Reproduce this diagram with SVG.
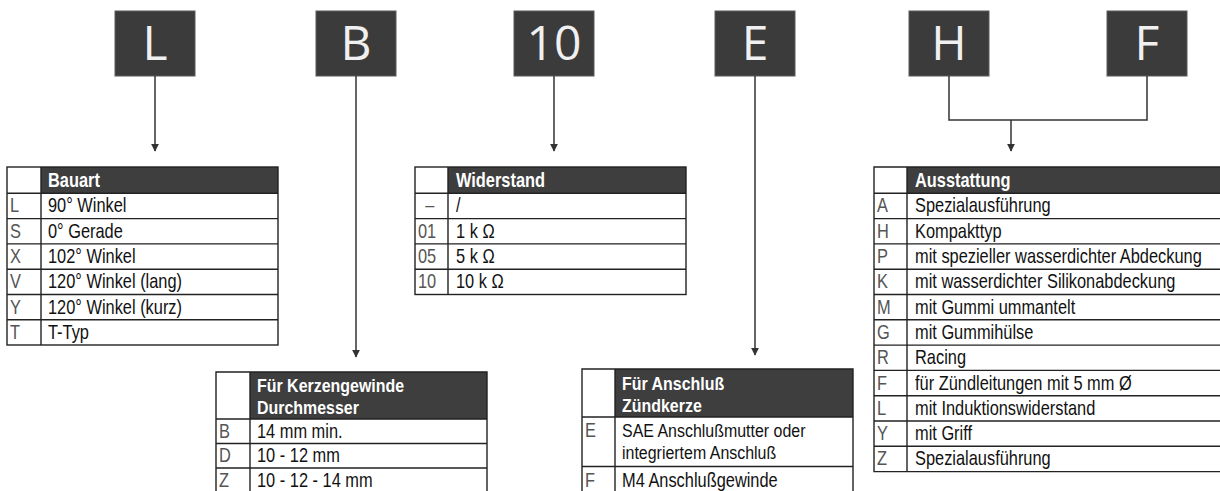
<svg xmlns="http://www.w3.org/2000/svg" width="1220" height="491" viewBox="0 0 1220 491">
<style>
.box{fill:#3b3b3b;stroke:#5a5a5a;stroke-width:1}
.bl{font-family:"Open Sans","DejaVu Sans",sans-serif;font-size:48px;fill:#f0f0f0;text-anchor:middle}
.hd{fill:#3e3e3e}
.ln{stroke:#222;stroke-width:1.4;fill:none}
.t text{font-family:"Liberation Sans",Arial,sans-serif;font-size:20px}
.ht text{font-weight:bold;fill:#fff}
.cd text{fill:#555}
.tx text{fill:#111}
.sm text{font-size:19px}
.con{stroke:#333;stroke-width:1.5;fill:none}
</style>
<defs>
<marker id="ah" viewBox="0 0 10 10" refX="9" refY="5" markerWidth="8" markerHeight="8" markerUnits="userSpaceOnUse" orient="auto">
<path d="M0,0 L10,5 L0,10 Z" fill="#333"/>
</marker>
</defs>
<rect width="1220" height="491" fill="#fff"/>

<g id="code-L"><rect class="box" x="115" y="11" width="80" height="65"/><text class="bl" x="155" y="60">L</text></g>
<g id="code-B"><rect class="box" x="316" y="11" width="80" height="65"/><text class="bl" x="356" y="60">B</text></g>
<g id="code-10"><rect class="box" x="514" y="11" width="80" height="65"/><text class="bl" x="554" y="60">10</text></g>
<g id="code-E"><rect class="box" x="715" y="11" width="80" height="65"/><text class="bl" x="755" y="60">E</text></g>
<g id="code-H"><rect class="box" x="909" y="11" width="80" height="65"/><text class="bl" x="949" y="60">H</text></g>
<g id="code-F"><rect class="box" x="1107" y="11" width="80" height="65"/><text class="bl" x="1147" y="60">F</text></g>

<g id="connectors">
<line class="con" x1="155" y1="76" x2="155" y2="151" marker-end="url(#ah)"/>
<line class="con" x1="356" y1="76" x2="356" y2="357" marker-end="url(#ah)"/>
<line class="con" x1="554" y1="76" x2="554" y2="151" marker-end="url(#ah)"/>
<line class="con" x1="755" y1="76" x2="755" y2="355" marker-end="url(#ah)"/>
<polyline class="con" points="949,76 949,120 1147,120 1147,76"/>
<line class="con" x1="1011" y1="120" x2="1011" y2="151" marker-end="url(#ah)"/>
</g>

<g id="table-bauart">
<rect class="hd" x="41" y="167" width="237" height="26.3"/>
<rect class="ln" x="7" y="167" width="271" height="178"/>
<line class="ln" x1="41" y1="167" x2="41" y2="345"/>
<path class="ln" d="M7,193.3H278M7,218.6H278M7,243.9H278M7,269.2H278M7,294.5H278M7,319.8H278"/>
<g class="t ht" transform="translate(48,0) scale(0.82,1)"><text x="0" y="187">Bauart</text></g>
<g class="t cd" transform="translate(10,0) scale(0.82,1)">
<text x="0" y="212.5">L</text><text x="0" y="237.8">S</text><text x="0" y="263.1">X</text><text x="0" y="288.4">V</text><text x="0" y="313.7">Y</text><text x="0" y="339">T</text>
</g>
<g class="t tx" transform="translate(48,0) scale(0.82,1)">
<text x="0" y="212.5">90° Winkel</text>
<text x="0" y="237.8">0° Gerade</text>
<text x="0" y="263.1">102° Winkel</text>
<text x="0" y="288.4">120° Winkel (lang)</text>
<text x="0" y="313.7">120° Winkel (kurz)</text>
<text x="0" y="339">T-Typ</text>
</g>
</g>

<g id="table-widerstand">
<rect class="hd" x="448" y="167" width="238" height="26.3"/>
<rect class="ln" x="415" y="167" width="271" height="127.5"/>
<line class="ln" x1="448" y1="167" x2="448" y2="294.5"/>
<path class="ln" d="M415,193.3H686M415,218.6H686M415,243.9H686M415,269.2H686"/>
<g class="t ht" transform="translate(456,0) scale(0.82,1)"><text x="0" y="187">Widerstand</text></g>
<g class="t cd" transform="translate(418,0) scale(0.82,1)">
<text x="9" y="212.5">–</text><text x="0" y="237.8">01</text><text x="0" y="263.1">05</text><text x="0" y="288.4">10</text>
</g>
<g class="t tx" transform="translate(456,0) scale(0.82,1)">
<text x="0" y="212.5">/</text>
<text x="0" y="237.8">1 k Ω</text>
<text x="0" y="263.1">5 k Ω</text>
<text x="0" y="288.4">10 k Ω</text>
</g>
</g>

<g id="table-ausstattung">
<rect class="hd" x="907" y="167" width="315" height="26.3"/>
<path class="ln" d="M1222,167H874V471.6H1222"/>
<line class="ln" x1="907" y1="167" x2="907" y2="471.6"/>
<path class="ln" d="M874,193.3H1222M874,218.6H1222M874,243.9H1222M874,269.2H1222M874,294.5H1222M874,319.8H1222M874,345.1H1222M874,370.4H1222M874,395.7H1222M874,421H1222M874,446.3H1222"/>
<g class="t ht" transform="translate(915,0) scale(0.82,1)"><text x="0" y="187">Ausstattung</text></g>
<g class="t cd" transform="translate(877,0) scale(0.82,1)">
<text x="0" y="212.5">A</text><text x="0" y="237.8">H</text><text x="0" y="263.1">P</text><text x="0" y="288.4">K</text><text x="0" y="313.7">M</text><text x="0" y="339">G</text><text x="0" y="364.3">R</text><text x="0" y="389.6">F</text><text x="0" y="414.9">L</text><text x="0" y="440.2">Y</text><text x="0" y="465.5">Z</text>
</g>
<g class="t tx" transform="translate(915,0) scale(0.82,1)">
<text x="0" y="212.5">Spezialausführung</text>
<text x="0" y="237.8">Kompakttyp</text>
<text x="0" y="263.1">mit spezieller wasserdichter Abdeckung</text>
<text x="0" y="288.4">mit wasserdichter Silikonabdeckung</text>
<text x="0" y="313.7">mit Gummi ummantelt</text>
<text x="0" y="339">mit Gummihülse</text>
<text x="0" y="364.3">Racing</text>
<text x="0" y="389.6">für Zündleitungen mit 5 mm Ø</text>
<text x="0" y="414.9">mit Induktionswiderstand</text>
<text x="0" y="440.2">mit Griff</text>
<text x="0" y="465.5">Spezialausführung</text>
</g>
</g>

<g id="table-gewinde">
<rect class="hd" x="250" y="372" width="237" height="47"/>
<path class="ln" d="M216,495V372H487V495"/>
<line class="ln" x1="250" y1="372" x2="250" y2="495"/>
<path class="ln" d="M216,419H487M216,443.5H487M216,468H487"/>
<g class="t ht sm" transform="translate(257,0) scale(0.84,1)">
<text x="0" y="392">Für Kerzengewinde</text>
<text x="0" y="414">Durchmesser</text>
</g>
<g class="t cd" transform="translate(219,0) scale(0.82,1)">
<text x="0" y="438">B</text><text x="0" y="462.5">D</text><text x="0" y="487">Z</text>
</g>
<g class="t tx" transform="translate(257,0) scale(0.82,1)">
<text x="0" y="438">14 mm min.</text>
<text x="0" y="462.5">10 - 12 mm</text>
<text x="0" y="487">10 - 12 - 14 mm</text>
</g>
</g>

<g id="table-anschluss">
<rect class="hd" x="615" y="369" width="238" height="48"/>
<path class="ln" d="M582,495V369H853V495"/>
<line class="ln" x1="615" y1="369" x2="615" y2="495"/>
<path class="ln" d="M582,417H853M582,466.5H853"/>
<g class="t ht sm" transform="translate(622,0) scale(0.84,1)">
<text x="0" y="390">Für Anschluß</text>
<text x="0" y="412">Zündkerze</text>
</g>
<g class="t cd" transform="translate(585,0) scale(0.82,1)">
<text x="0" y="437">E</text><text x="0" y="487">F</text>
</g>
<g class="t tx sm" transform="translate(622,0) scale(0.84,1)">
<text x="0" y="437">SAE Anschlußmutter oder</text>
<text x="0" y="459">integriertem Anschluß</text>
</g>
<g class="t tx" transform="translate(622,0) scale(0.82,1)">
<text x="0" y="487">M4 Anschlußgewinde</text>
</g>
</g>
</svg>
